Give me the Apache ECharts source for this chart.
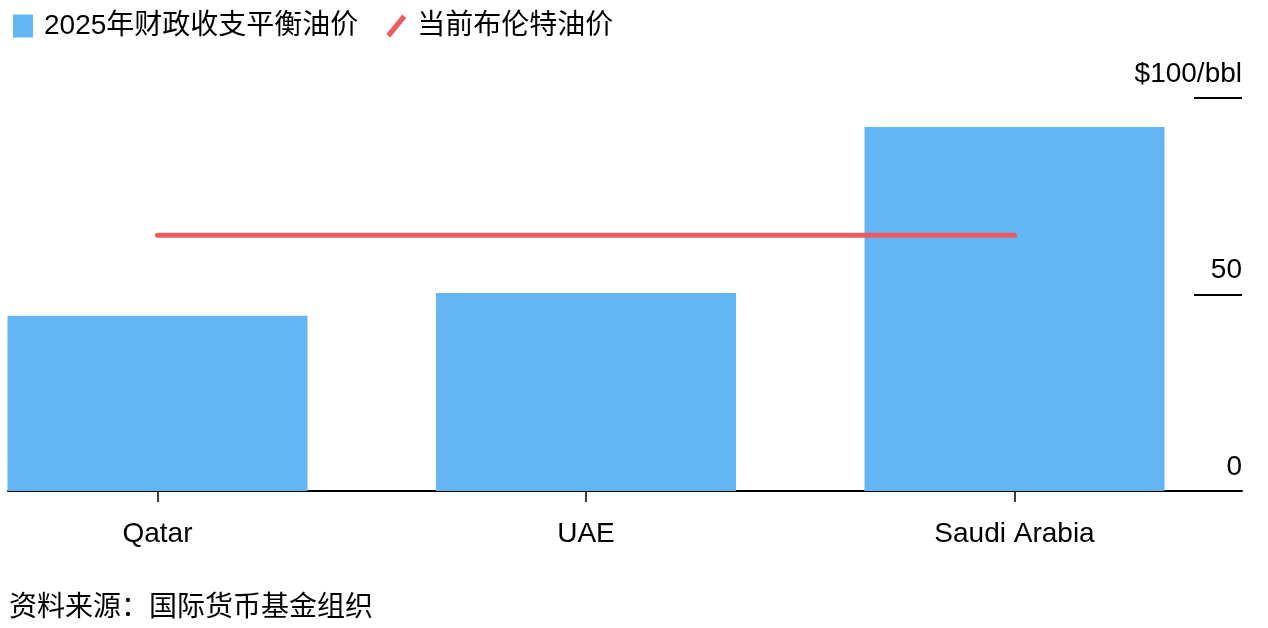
<!DOCTYPE html>
<html><head><meta charset="utf-8">
<script src="https://cdn.jsdelivr.net/npm/echarts@6/dist/echarts.min.js"></script>
<style>html,body{margin:0;padding:0;background:#fff}#c{width:1268px;height:628px}</style>
</head><body><div id="c"></div>
<script>
const categories = ['Qatar', 'UAE', 'Saudi Arabia'];
const breakevenPrice = [44.6, 50.4, 92.6];
const brentPrice = [65.1, 65.1, 65.1];
const yTicks = [0, 50, 100];
const seriesNames = ['2025年财政收支平衡油价', '当前布伦特油价'];
const sourceText = '资料来源：国际货币基金组织';

const catIndex = categories.map((c, i) => i);
const barData = breakevenPrice.map((v, i) => [i, v]);
const lineData = brentPrice.map((v, i) => [i, v]);

const FONT = '"Liberation Sans", "Noto Sans CJK SC", sans-serif';
const chart = echarts.init(document.getElementById('c'), null, {renderer: 'canvas'});
chart.setOption({
  animation: false,
  backgroundColor: '#fff',
  textStyle: {fontFamily: FONT},
  title: {text: sourceText, left: 4, top: 589, textStyle: {fontSize: 28, fontWeight: 'normal', color: '#000', fontFamily: FONT}},
  legend: {
    left: 8, top: 7, itemWidth: 20, itemHeight: 23, itemGap: 28,
    textStyle: {fontSize: 28, color: '#000', fontFamily: FONT, padding: [0, 0, 0, 6]},
    data: [
      {name: seriesNames[0], icon: 'rect', itemStyle: {color: '#64B5F3'}},
      {name: seriesNames[1], icon: 'path://M0,19.5 L16,0 L20,3.5 L4,23 Z', itemStyle: {color: '#EA5C62'}}
    ]
  },
  grid: {left: 8, right: 26, top: 98, bottom: 137},
  xAxis: {
    type: 'value', min: -0.3489, max: 2.5309,
    splitLine: {show: false},
    axisLine: {show: true, onZero: false, lineStyle: {color: '#000', width: 2}},
    axisTick: {show: true, customValues: catIndex, length: 11, lineStyle: {color: '#000', width: 1.5}},
    axisLabel: {customValues: catIndex, fontSize: 28, color: '#000', margin: 29, fontFamily: FONT,
      formatter: v => categories[Math.round(v)]}
  },
  yAxis: {
    type: 'value', min: 0, max: 100, interval: 50, position: 'right',
    axisLine: {show: false, onZero: false}, splitLine: {show: false},
    axisTick: {show: true, inside: true, length: 48, lineStyle: {color: '#000', width: 2}},
    axisLabel: {inside: true, margin: 0, fontSize: 28, color: '#000', verticalAlign: 'bottom', padding: [0, 0, 10, 0], fontFamily: FONT,
      formatter: v => yTicks.includes(v) ? (v === 100 ? '$100/bbl' : String(v)) : ''}
  },
  series: [
    {name: seriesNames[0], type: 'bar', data: barData, barWidth: 300,
     itemStyle: {color: '#64B5F3'}},
    {name: seriesNames[1], type: 'line', data: lineData, symbol: 'none',
     lineStyle: {color: '#EA5C62', width: 5, cap: 'round'}, itemStyle: {color: '#EA5C62'}}
  ]
});
</script></body></html>
